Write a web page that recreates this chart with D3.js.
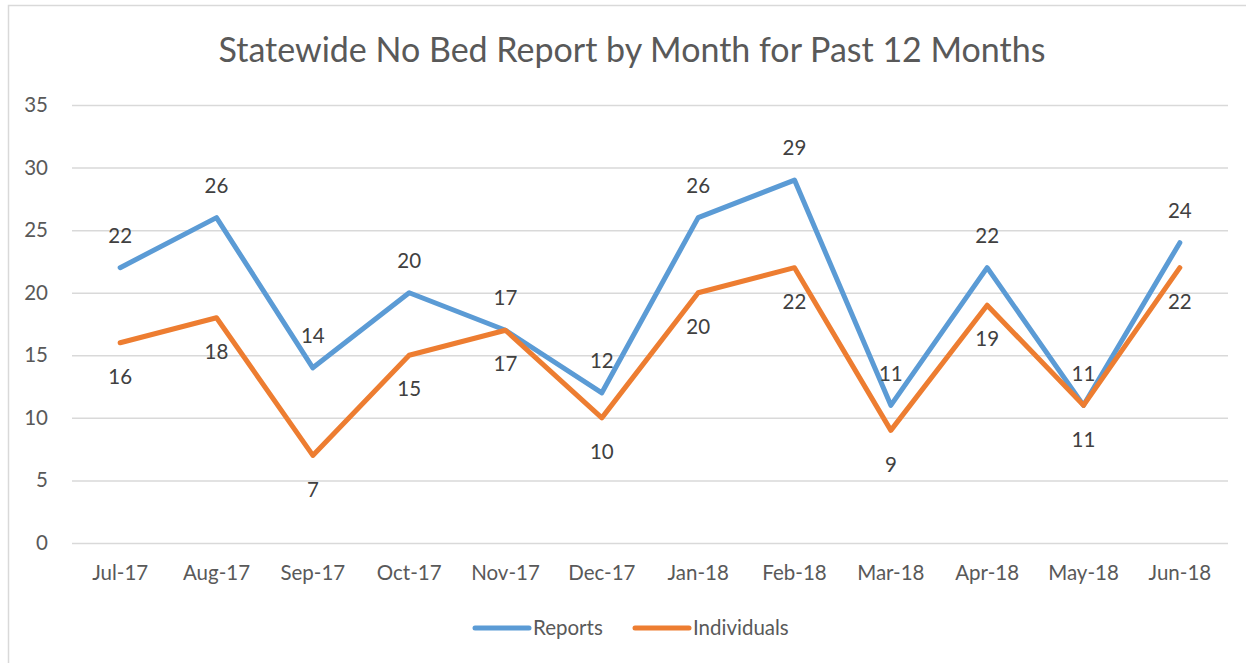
<!DOCTYPE html>
<html>
<head>
<meta charset="utf-8">
<script src="https://cdn.jsdelivr.net/npm/d3@7"></script>
<style>
  body { margin: 0; background: #fff; }
  svg { display: block; font-family: Lato, "Open Sans", sans-serif; }
</style>
</head>
<body>
<div id="vizholder"></div>
<script>
var months = ["Jul-17","Aug-17","Sep-17","Oct-17","Nov-17","Dec-17","Jan-18","Feb-18","Mar-18","Apr-18","May-18","Jun-18"];
var reports = [22, 26, 14, 20, 17, 12, 26, 29, 11, 22, 11, 24];
var individuals = [16, 18, 7, 15, 17, 10, 20, 22, 9, 19, 11, 22];
var yTicks = [0, 5, 10, 15, 20, 25, 30, 35];
var seriesNames = ["Reports", "Individuals"];
var seriesColors = ["#5b9bd5", "#ed7d31"];

var W = 1246, H = 663;
var margin = {top: 105, left: 72};

var svg = d3.select("#vizholder").append("svg")
    .attr("width", W)
    .attr("height", H);

// chart frame
svg.append("rect")
    .attr("x", 8.5).attr("y", 5.5)
    .attr("width", W + 10).attr("height", H + 10)
    .attr("fill", "none")
    .attr("stroke", "#d9d9d9")
    .attr("stroke-width", 1.5);

var g = svg.append("g")
    .attr("transform", "translate(" + margin.left + "," + margin.top + ")");

var x = d3.scaleBand().domain(months).range([0, 1156]);
var y = d3.scaleLinear().domain([0, 35]).range([438, 0]);

// title
svg.append("text")
    .attr("x", 632).attr("y", 50)
    .attr("dy", "0.35em")
    .attr("text-anchor", "middle")
    .style("font-size", "34px")
    .style("fill", "#595959")
    .text("Statewide No Bed Report by Month for Past 12 Months");

// gridlines + y labels
var yAxis = g.append("g")
    .call(d3.axisLeft(y).tickValues(yTicks).tickSize(-1156).tickPadding(24));
yAxis.select(".domain").remove();
yAxis.selectAll(".tick line").attr("stroke", "#d9d9d9").attr("stroke-width", 1.5);
yAxis.selectAll(".tick text")
    .style("font-size", "20.5px")
    .style("fill", "#595959")
    .style("font-family", "Lato, sans-serif");

// x labels
var xAxis = g.append("g")
    .attr("transform", "translate(0," + 438 + ")")
    .call(d3.axisBottom(x).tickSize(0).tickPadding(22));
xAxis.select(".domain").remove();
xAxis.selectAll(".tick text")
    .style("font-size", "20.5px")
    .style("fill", "#595959")
    .style("font-family", "Lato, sans-serif");

var series = [reports, individuals];
var line = d3.line()
    .x(function(d, i) { return x(months[i]) + x.bandwidth() / 2; })
    .y(function(d) { return y(d); });

series.forEach(function(vals, s) {
  g.append("path")
      .datum(vals)
      .attr("d", line)
      .attr("fill", "none")
      .attr("stroke", seriesColors[s])
      .attr("stroke-width", 5)
      .attr("stroke-linejoin", "round")
      .attr("stroke-linecap", "round");
});

series.forEach(function(vals, s) {
  g.selectAll(".lbl" + s)
      .data(vals)
      .enter().append("text")
      .attr("x", function(d, i) { return x(months[i]) + x.bandwidth() / 2; })
      .attr("y", function(d) { return y(d) + (s === 0 ? -32 : 34); })
      .attr("dy", "0.35em")
      .attr("text-anchor", "middle")
      .style("font-size", "20.5px")
      .style("fill", "#404040")
      .text(function(d) { return d; });
});

// legend
var legend = svg.append("g").attr("transform", "translate(0,628)");
var legX = [475, 635];
seriesNames.forEach(function(name, s) {
  legend.append("line")
      .attr("x1", legX[s]).attr("x2", legX[s] + 54)
      .attr("y1", 0).attr("y2", 0)
      .attr("stroke", seriesColors[s])
      .attr("stroke-width", 5)
      .attr("stroke-linecap", "round");
  legend.append("text")
      .attr("x", legX[s] + 58).attr("y", 0)
      .attr("dy", "0.35em")
      .style("font-size", "20.5px")
      .style("fill", "#595959")
      .text(name);
});
</script>
</body>
</html>
